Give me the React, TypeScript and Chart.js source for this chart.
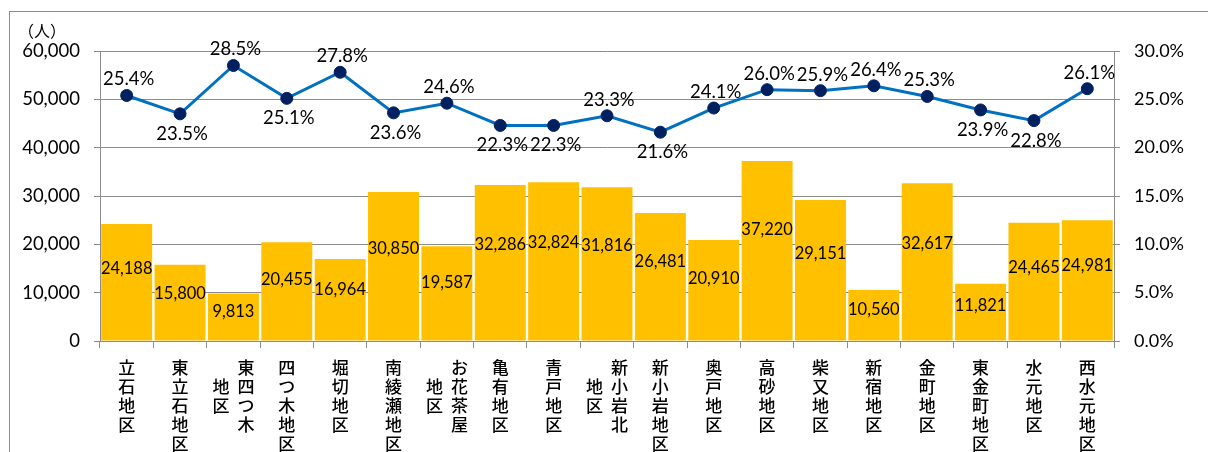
import React, { useEffect, useRef } from "react";
import { Chart, registerables } from "chart.js";

Chart.register(...registerables);

const categories = [
  "立石地区", "東立石地区", "東四つ木\n地区", "四つ木地区", "堀切地区", "南綾瀬地区",
  "お花茶屋\n地区", "亀有地区", "青戸地区", "新小岩北\n地区", "新小岩地区", "奥戸地区",
  "高砂地区", "柴又地区", "新宿地区", "金町地区", "東金町地区", "水元地区", "西水元地区",
];
const population = [
  24188, 15800, 9813, 20455, 16964, 30850, 19587, 32286, 32824, 31816,
  26481, 20910, 37220, 29151, 10560, 32617, 11821, 24465, 24981,
];
const ratio = [
  25.4, 23.5, 28.5, 25.1, 27.8, 23.6, 24.6, 22.3, 22.3, 23.3,
  21.6, 24.1, 26.0, 25.9, 26.4, 25.3, 23.9, 22.8, 26.1,
];
const ratioLabelSide = [
  "above", "below", "above", "below", "above", "below", "above", "below", "below", "above",
  "below", "above", "above", "above", "above", "above", "below", "below", "above",
];
const leftAxisMax = 60000;
const leftAxisStep = 10000;
const rightAxisMax = 30;
const rightAxisStep = 5;
const unitLabel = "（人）";

const AXIS = "#8c8c8c";
const NUM_FONT = "Lato";
const JP_FONT = '"Noto Sans CJK JP"';

const labelPlugin = {
  id: "labelPlugin",
  afterDraw(chart: any) {
    const ctx = chart.ctx;
    const xScale = chart.scales.x;
    const yScale = chart.scales.y;
    const area = chart.chartArea;
    ctx.save();
    ctx.fillStyle = "#000";
    ctx.textAlign = "center";
    ctx.textBaseline = "middle";

    // category labels (vertical text)
    ctx.font = `500 17px ${JP_FONT}`;
    const pitch = 19;
    categories.forEach((lab, i) => {
      const cols = lab.split("\n");
      const maxLen = Math.max(...cols.map((c) => c.length));
      const cx = xScale.getPixelForValue(i);
      cols.forEach((col, c) => {
        const colX = cx + ((cols.length - 1) / 2 - c) * 25;
        const off = ((maxLen - col.length) / 2) * pitch;
        Array.from(col).forEach((ch, k) => {
          ctx.fillText(ch, colX, area.bottom + 27 + off + k * pitch);
        });
      });
    });

    // bar value labels
    ctx.font = `16.5px ${NUM_FONT}`;
    const barMeta = chart.getDatasetMeta(0);
    barMeta.data.forEach((el: any, i: number) => {
      const y = yScale.getPixelForValue(population[i] * 0.62);
      ctx.fillText(population[i].toLocaleString("en-US"), el.x, y);
    });

    // ratio labels
    ctx.font = `18.5px ${NUM_FONT}`;
    const lineMeta = chart.getDatasetMeta(1);
    lineMeta.data.forEach((el: any, i: number) => {
      const y = el.y + (ratioLabelSide[i] === "above" ? -16 : 20);
      ctx.fillText(ratio[i].toFixed(1) + "%", el.x + 2, y);
    });

    // unit label
    ctx.font = `16px ${JP_FONT}`;
    ctx.fillText(unitLabel, 42, 31);
    ctx.restore();
  },
};

export default function App() {
  const ref = useRef<HTMLCanvasElement>(null);

  useEffect(() => {
    if (!ref.current) return;
    const chart = new Chart(ref.current, {
      type: "bar",
      data: {
        labels: categories,
        datasets: [
          {
            type: "bar",
            data: population,
            backgroundColor: "#FFC000",
            borderWidth: 0,
            barPercentage: 0.955,
            categoryPercentage: 1,
            yAxisID: "y",
            order: 1,
          },
          {
            type: "line",
            data: ratio,
            borderColor: "#0070C0",
            borderWidth: 3,
            pointBackgroundColor: "#002060",
            pointBorderColor: "#002060",
            pointRadius: 6,
            pointBorderWidth: 1,
            tension: 0,
            yAxisID: "y1",
            order: 0,
          } as any,
        ],
      },
      options: {
        responsive: false,
        animation: false,
        layout: { padding: { top: 51, left: 0, right: 0, bottom: 0 } },
        plugins: {
          legend: { display: false },
          tooltip: { enabled: false },
          title: { display: false },
        },
        scales: {
          x: {
            type: "category",
            ticks: { display: false },
            grid: {
              display: true,
              drawOnChartArea: false,
              drawTicks: true,
              tickLength: 7,
              color: AXIS,
              offset: true,
            },
            border: { display: true, color: AXIS, width: 1 },
            afterFit: (s: any) => {
              s.height = 111;
            },
          },
          y: {
            position: "left",
            min: 0,
            max: leftAxisMax,
            ticks: {
              stepSize: leftAxisStep,
              padding: 14,
              color: "#000",
              font: { family: NUM_FONT, size: 18.5 },
              callback: (v: any) => Number(v).toLocaleString("en-US"),
            },
            grid: { color: AXIS, tickLength: 6, lineWidth: 1 },
            border: { display: true, color: AXIS, width: 1 },
            afterFit: (s: any) => {
              s.width = 100;
            },
          },
          y1: {
            position: "right",
            min: 0,
            max: rightAxisMax,
            ticks: {
              stepSize: rightAxisStep,
              padding: 14,
              color: "#000",
              font: { family: NUM_FONT, size: 18 },
              callback: (v: any) => Number(v).toFixed(1) + "%",
            },
            grid: { drawOnChartArea: false, color: AXIS, tickLength: 6 },
            border: { display: true, color: AXIS, width: 1 },
            afterFit: (s: any) => {
              s.width = 94;
            },
          },
        } as any,
      },
      plugins: [labelPlugin],
    });
    return () => chart.destroy();
  }, []);

  return (
    <div style={{ position: "fixed", left: 0, top: 0, width: 1208, height: 452, background: "#fff" }}>
      <div
        style={{
          position: "absolute",
          left: 9,
          top: 11,
          width: 1300,
          height: 500,
          borderLeft: `1px solid ${AXIS}`,
          borderTop: `1px solid ${AXIS}`,
        }}
      />
      <canvas
        ref={ref}
        width={1208}
        height={452}
        style={{ position: "absolute", left: 0, top: 0, width: 1208, height: 452 }}
      />
    </div>
  );
}
